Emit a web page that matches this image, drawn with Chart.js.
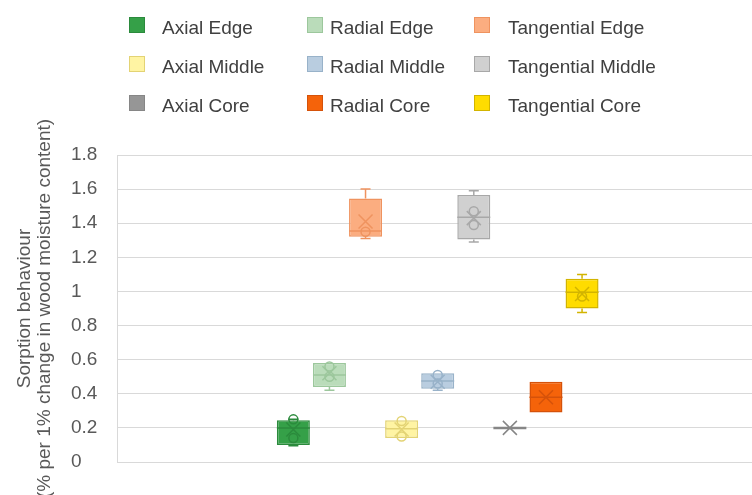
<!DOCTYPE html>
<html>
<head>
<meta charset="utf-8">
<title>Sorption behaviour</title>
<script src="https://cdn.jsdelivr.net/npm/chart.js@4/dist/chart.umd.min.js"></script>
<style>
  html, body { margin: 0; padding: 0; background: #fff; overflow: hidden; width: 752px; height: 495px; }
  #wrap { position: relative; width: 758px; height: 495px; }
  #chart { position: absolute; left: 0; top: 0; }
  #legend { position: absolute; left: 0; top: 0; width: 752px; height: 130px;
            font-family: "Liberation Sans", Arial, sans-serif; font-size: 19px; color: #404040; }
  .sw { position: absolute; width: 16px; height: 16px; box-sizing: border-box; border: 1px solid; }
  .lb { position: absolute; white-space: nowrap; line-height: 20px; }
</style>
</head>
<body>
<div id="wrap">
  <canvas id="chart" width="758" height="495"></canvas>
  <div id="legend"></div>
</div>
<script>
// Series (one box per series, in drawing order)
const seriesNames = [
  'Axial Edge', 'Radial Edge', 'Tangential Edge',
  'Axial Middle', 'Radial Middle', 'Tangential Middle',
  'Axial Core', 'Radial Core', 'Tangential Core'
];

// Box statistics
const boxLow      = [0.10, 0.44, 1.32, 0.14, 0.43, 1.305, 0.20, 0.29, 0.90];
const boxHigh     = [0.245, 0.58, 1.545, 0.245, 0.52, 1.565, 0.20, 0.47, 1.075];
const medians     = [0.20, 0.51, 1.355, 0.195, 0.475, 1.435, 0.20, 0.38, 0.995];
const means       = [0.19, 0.52, 1.41, 0.19, 0.47, 1.43, 0.20, 0.38, 0.985];
const whiskerLow  = [0.095, 0.42, 1.31, 0.14, 0.42, 1.29, 0.20, 0.29, 0.877];
const whiskerHigh = [0.25, 0.58, 1.60, 0.245, 0.52, 1.59, 0.20, 0.47, 1.10];
const innerPoints = [
  [0.14, 0.25], [0.50, 0.56], [1.35],
  [0.15, 0.24], [0.46, 0.51], [1.39, 1.47],
  [], [], [0.97]
];

// Value axis
const yTickValues = [0, 0.2, 0.4, 0.6, 0.8, 1, 1.2, 1.4, 1.6, 1.8];
const yTickLabels = ['0', '0.2', '0.4', '0.6', '0.8', '1', '1.2', '1.4', '1.6', '1.8'];
const yTitleLines = ['Sorption behaviour', '(% per 1% change in wood moisture content)'];
const categoryLabels = [''];

// Colours
const fillColors = ['#35a048', '#badcba', '#fbad80', '#fff4a3', '#b9cde0', '#d0d0d0', '#969696', '#f5630a', '#ffdc00'];
const lineColors = ['#2b8a3c', '#9cc79c', '#ef935f', '#e3d374', '#98b2c9', '#a8a8a8', '#868686', '#d5520a', '#d2b400'];

const FONT = '"Liberation Sans", Arial, sans-serif';

// Whiskers, median, mean marker and inner points on top of each box
const boxWhiskers = {
  id: 'boxWhiskers',
  afterDatasetsDraw(chart) {
    const ctx = chart.ctx;
    const ys = chart.scales.y;
    chart.data.datasets.forEach((ds, i) => {
      const bar = chart.getDatasetMeta(i).data[0];
      if (!bar) return;
      const cx = bar.x;
      const half = bar.width / 2;
      const cap = 5;
      ctx.save();
      ctx.strokeStyle = lineColors[i];
      ctx.lineWidth = 1.5;
      ctx.beginPath();
      if (whiskerHigh[i] > boxHigh[i]) {
        const yt = ys.getPixelForValue(whiskerHigh[i]);
        ctx.moveTo(cx, ys.getPixelForValue(boxHigh[i]));
        ctx.lineTo(cx, yt);
        ctx.moveTo(cx - cap, yt);
        ctx.lineTo(cx + cap, yt);
      }
      if (whiskerLow[i] < boxLow[i]) {
        const yb = ys.getPixelForValue(whiskerLow[i]);
        ctx.moveTo(cx, ys.getPixelForValue(boxLow[i]));
        ctx.lineTo(cx, yb);
        ctx.moveTo(cx - cap, yb);
        ctx.lineTo(cx + cap, yb);
      }
      ctx.stroke();

      // median
      ctx.lineWidth = boxHigh[i] === boxLow[i] ? 2.5 : 1.5;
      ctx.beginPath();
      const ym = ys.getPixelForValue(medians[i]);
      ctx.moveTo(cx - half, ym);
      ctx.lineTo(cx + half, ym);
      ctx.stroke();

      // mean (x marker)
      ctx.lineWidth = 1.5;
      const ya = ys.getPixelForValue(means[i]);
      const s = 7;
      ctx.beginPath();
      ctx.moveTo(cx - s, ya - s); ctx.lineTo(cx + s, ya + s);
      ctx.moveTo(cx - s, ya + s); ctx.lineTo(cx + s, ya - s);
      ctx.stroke();

      // inner points
      innerPoints[i].forEach(v => {
        ctx.beginPath();
        ctx.arc(cx, ys.getPixelForValue(v), 4.5, 0, Math.PI * 2);
        ctx.stroke();
      });
      ctx.restore();
    });
  }
};

const datasets = seriesNames.map((name, i) => ({
  label: name,
  data: [[boxLow[i], boxHigh[i]]],
  backgroundColor: fillColors[i],
  borderColor: lineColors[i],
  borderWidth: 1.5,
  borderSkipped: false
}));

const chart = new Chart(document.getElementById('chart'), {
  type: 'bar',
  data: { labels: categoryLabels, datasets },
  plugins: [boxWhiskers],
  options: {
    responsive: false,
    animation: false,
    events: [],
    categoryPercentage: 0.507,
    barPercentage: 0.914,
    layout: { padding: { top: 155, bottom: 33, left: 0, right: 0 } },
    plugins: { legend: { display: false }, tooltip: { enabled: false }, title: { display: false } },
    scales: {
      x: {
        type: 'category',
        offset: true,
        grid: { display: true, color: '#d9d9d9', lineWidth: 1, drawTicks: false, offset: true },
        border: { display: false },
        ticks: { display: false }
      },
      y: {
        type: 'linear',
        position: 'left',
        weight: 0,
        min: 0,
        max: 1.8,
        afterBuildTicks(scale) { scale.ticks = yTickValues.map(v => ({ value: v })); },
        grid: { color: '#d9d9d9', lineWidth: 1, drawTicks: false },
        border: { display: true, color: '#d9d9d9', width: 1 },
        ticks: {
          crossAlign: 'far',
          padding: 10,
          color: '#595959',
          font: { family: FONT, size: 19 },
          callback(value, index) { return yTickLabels[index]; }
        }
      },
      yTitle: {
        type: 'linear',
        position: 'left',
        weight: 1,
        grid: { display: false, drawTicks: false },
        border: { display: false },
        ticks: { display: false },
        title: {
          display: true,
          text: yTitleLines,
          color: '#595959',
          font: { family: FONT, size: 19, lineHeight: 20 / 19 },
          padding: { top: 15, bottom: 16 }
        }
      }
    }
  }
});

// Three-column legend built from the datasets
const legendEl = document.getElementById('legend');
const swatchX = [129, 307, 474];
const textX = [162, 330, 508];
const rowY = [26, 65, 104];
chart.data.datasets.forEach((ds, i) => {
  const r = Math.floor(i / 3), c = i % 3;
  const sw = document.createElement('div');
  sw.className = 'sw';
  sw.style.left = swatchX[c] + 'px';
  sw.style.top = (rowY[r] - 9) + 'px';
  sw.style.background = ds.backgroundColor;
  sw.style.borderColor = ds.borderColor;
  legendEl.appendChild(sw);
  const lb = document.createElement('div');
  lb.className = 'lb';
  lb.style.left = textX[c] + 'px';
  lb.style.top = (rowY[r] - 8) + 'px';
  lb.textContent = ds.label;
  legendEl.appendChild(lb);
});
</script>
</body>
</html>
